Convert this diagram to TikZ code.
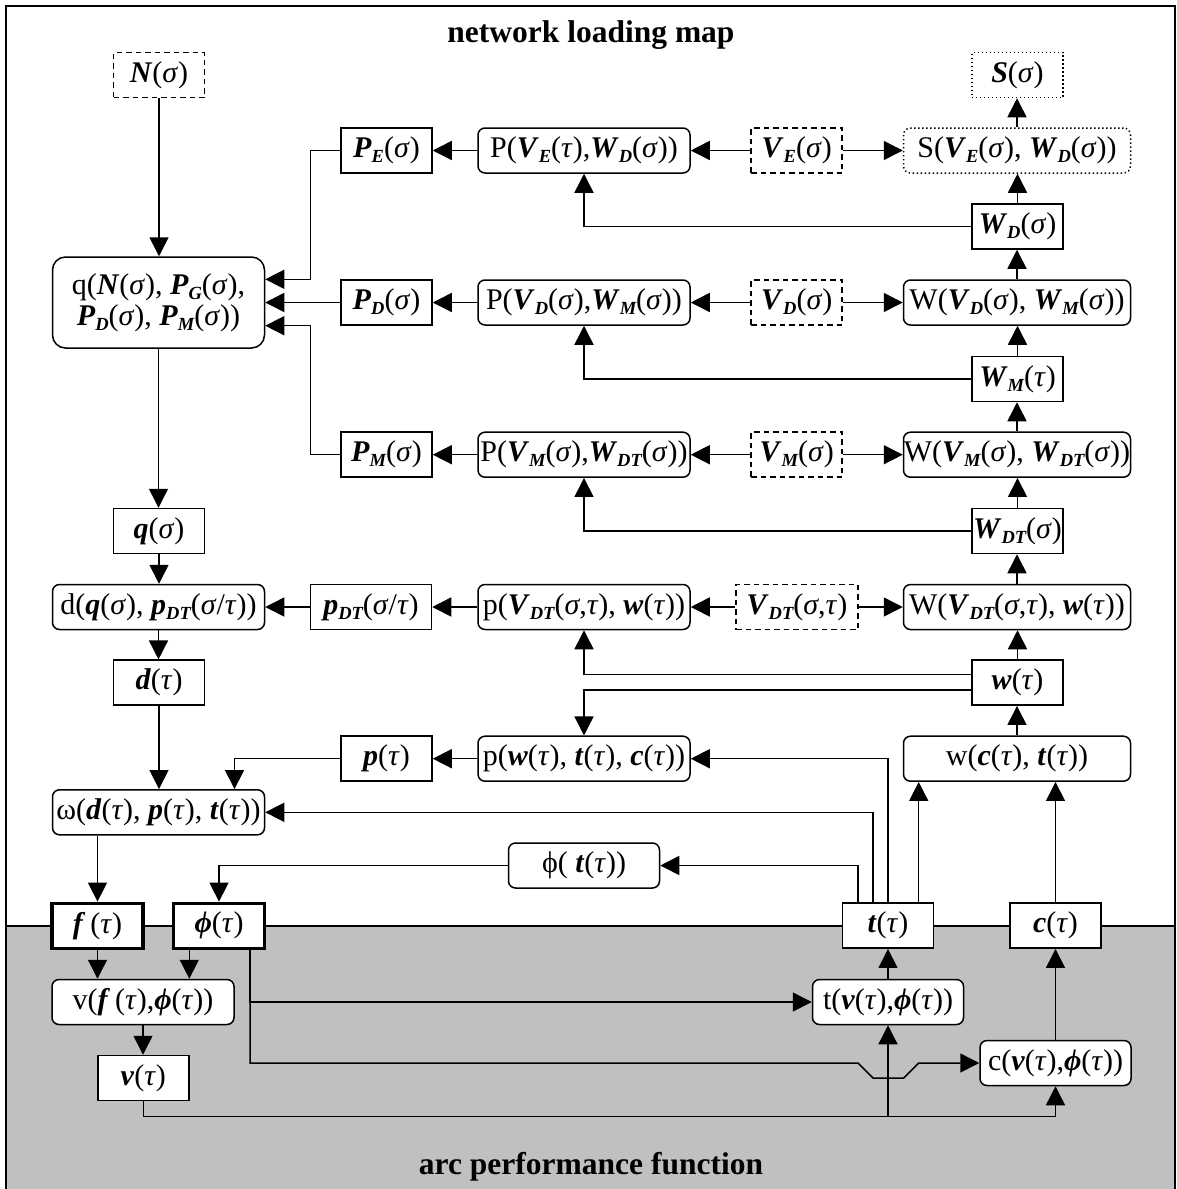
\documentclass[tikz,border=0pt]{standalone}
\usepackage{fontspec}
\setmainfont{Liberation Serif}
\usetikzlibrary{arrows.meta}
\definecolor{gbg}{RGB}{192,192,192}
\newcommand{\bi}[1]{\textbf{\textit{#1}}}
\newcommand{\sigv}{\textit{σ}}
\newcommand{\tauv}{\textit{τ}}
\newcommand{\sbx}[1]{\raisebox{-5pt}{\fontsize{18.5}{19}\selectfont\bfseries\itshape #1}}
\begin{document}
\begin{tikzpicture}[x=1pt,y=-1pt,
  box/.style={draw,fill=white,line width=1.5pt,minimum height=45pt,inner sep=0pt,
    font=\fontsize{30}{30}\selectfont},
  rbox/.style={box,rounded corners=7pt},
  dbox/.style={box,dash pattern=on 5.5pt off 4pt},
  obox/.style={box,dash pattern=on 1.4pt off 2.6pt},
  tbox/.style={box,line width=3.2pt},
  conn/.style={line width=1.5pt},
  arr/.style={conn,-{Triangle[length=19pt,width=19pt]}}]
\useasboundingbox (0,0) rectangle (1177,1189);
% background
\fill[gbg] (6,926) rectangle (1175,1190);
\draw[conn] (6,926) -- (1175,926);
\draw[line width=1.6pt] (6,1190) -- (6,6) -- (1175,6) -- (1175,1190);
\node[anchor=base,font=\fontsize{31.5}{32}\selectfont\bfseries] (title) at (591,42) {network loading map};
\node[anchor=base,font=\fontsize{31.5}{32}\selectfont\bfseries] (title2) at (591,1174) {arc performance function};
% nodes
\node[dbox,minimum width=91pt] (N) at (159,75) {\bi{N}(\sigv)};
\node[obox,minimum width=91pt] (S) at (1017.5,75) {\bi{S}(\sigv)};
\node[box,minimum width=91pt] (PE) at (386.5,150.5) {\bi{P}\sbx{E}(\sigv)};
\node[rbox,minimum width=212pt] (PVE) at (584,150.5) {P(\bi{V}\sbx{E}(\tauv),\bi{W}\sbx{D}(\sigv))};
\node[dbox,minimum width=91pt] (VE) at (796.7,150.5) {\bi{V}\sbx{E}(\sigv)};
\node[obox,rounded corners=7pt,minimum width=227pt] (SVE) at (1017,150.5) {S(\bi{V}\sbx{E}(\sigv), \bi{W}\sbx{D}(\sigv))};
\node[box,minimum width=91pt] (WD) at (1017.5,226.5) {\bi{W}\sbx{D}(\sigv)};
\node[rbox,rounded corners=13pt,minimum width=212pt,minimum height=91pt,align=center,
  font=\fontsize{30}{31}\selectfont] (q) at (158.5,302.5) {q(\bi{N}(\sigv), \bi{P}\sbx{G}(\sigv),\\ \bi{P}\sbx{D}(\sigv), \bi{P}\sbx{M}(\sigv))};
\node[box,minimum width=91pt] (PD) at (386.5,302.5) {\bi{P}\sbx{D}(\sigv)};
\node[rbox,minimum width=212pt] (PVD) at (584,302.5) {P(\bi{V}\sbx{D}(\sigv),\bi{W}\sbx{M}(\sigv))};
\node[dbox,minimum width=91pt] (VD) at (796.7,302.5) {\bi{V}\sbx{D}(\sigv)};
\node[rbox,minimum width=227pt] (WVD) at (1017,302.5) {W(\bi{V}\sbx{D}(\sigv), \bi{W}\sbx{M}(\sigv))};
\node[box,minimum width=91pt] (WM) at (1017.5,379) {\bi{W}\sbx{M}(\tauv)};
\node[box,minimum width=91pt] (PM) at (386.5,454.7) {\bi{P}\sbx{M}(\sigv)};
\node[rbox,minimum width=212pt] (PVM) at (584,454.7) {P(\bi{V}\sbx{M}(\sigv),\bi{W}\sbx{DT}(\sigv))};
\node[dbox,minimum width=91pt] (VM) at (796.7,454.7) {\bi{V}\sbx{M}(\sigv)};
\node[rbox,minimum width=227pt] (WVM) at (1017,454.7) {W(\bi{V}\sbx{M}(\sigv), \bi{W}\sbx{DT}(\sigv))};
\node[box,minimum width=91pt] (WDT) at (1017.5,531) {\bi{W}\sbx{DT}(\sigv)};
\node[box,minimum width=91pt] (qs) at (159,531) {\bi{q}(\sigv)};
\node[rbox,minimum width=212pt] (d) at (158.5,607) {d(\bi{q}(\sigv), \bi{p}\sbx{DT}(\sigv/\tauv))};
\node[box,minimum width=121pt] (pDT) at (371,607) {\bi{p}\sbx{DT}(\sigv/\tauv)};
\node[rbox,minimum width=212pt] (pVDT) at (584,607) {p(\bi{V}\sbx{DT}(\sigv,\tauv), \bi{w}(\tauv))};
\node[dbox,minimum width=122pt] (VDT) at (797,607) {\bi{V}\sbx{DT}(\sigv,\tauv)};
\node[rbox,minimum width=227pt] (WVDT) at (1017,607) {W(\bi{V}\sbx{DT}(\sigv,\tauv), \bi{w}(\tauv))};
\node[box,minimum width=91pt] (dt) at (159,682.7) {\bi{d}(\tauv)};
\node[box,minimum width=91pt] (w) at (1017.5,682.7) {\bi{w}(\tauv)};
\node[box,minimum width=91pt] (p) at (386.5,758.7) {\bi{p}(\tauv)};
\node[rbox,minimum width=212pt] (pw) at (584,758.7) {p(\bi{w}(\tauv), \bi{t}(\tauv), \bi{c}(\tauv))};
\node[rbox,minimum width=227pt] (wc) at (1017,758.7) {w(\bi{c}(\tauv), \bi{t}(\tauv))};
\node[rbox,minimum width=212pt] (om) at (158.5,812.3) {ω(\bi{d}(\tauv), \bi{p}(\tauv), \bi{t}(\tauv))};
\node[rbox,minimum width=151pt] (ph) at (584,865.5) {ϕ( \bi{t}(\tauv))};
\node[tbox,minimum width=91pt] (f) at (97.5,925.7) {\bi{f}\,(\tauv)};
\node[tbox,minimum width=91pt] (fi) at (219,925.7) {\bi{ϕ}(\tauv)};
\node[box,minimum width=91pt] (t) at (888,925.7) {\bi{t}(\tauv)};
\node[box,minimum width=91pt] (c) at (1055.5,925.7) {\bi{c}(\tauv)};
\node[rbox,minimum width=182pt] (v) at (143,1002) {v(\bi{f}\,(\tauv),\bi{ϕ}(\tauv))};
\node[rbox,minimum width=151pt] (tv) at (888,1002) {t(\bi{v}(\tauv),\bi{ϕ}(\tauv))};
\node[box,minimum width=91pt] (vt) at (143.3,1078) {\bi{v}(\tauv)};
\node[rbox,minimum width=151pt] (cv) at (1055.5,1063) {c(\bi{v}(\tauv),\bi{ϕ}(\tauv))};
\coordinate (bj) at ([yshift=-30pt]cv.south);
% connectors
\draw[arr] (N.south) -- (N.south |- q.north);
\draw[arr] (PE.west) -- ++(-30,0) |- ([yshift=23.2pt]q.east);
\draw[arr] (PD.west) -- (q.east);
\draw[arr] (PM.west) -- ++(-30,0) |- ([yshift=-23.2pt]q.east);
\draw[arr] (PVE.west) -- (PE.east);
\draw[arr] (VE.west) -- (PVE.east);
\draw[arr] (VE.east) -- (SVE.west);
\draw[arr] (SVE.north) -- (SVE.north |- S.south);
\draw[arr] (WD.north) -- (WD.north |- SVE.south);
\draw[arr] (WD.west) -| (PVE.south);
\draw[arr] (PVD.west) -- (PD.east);
\draw[arr] (VD.west) -- (PVD.east);
\draw[arr] (VD.east) -- (WVD.west);
\draw[arr] (WVD.north) -- (WVD.north |- WD.south);
\draw[arr] (WM.north) -- (WM.north |- WVD.south);
\draw[arr] (WM.west) -| (PVD.south);
\draw[arr] (PVM.west) -- (PM.east);
\draw[arr] (VM.west) -- (PVM.east);
\draw[arr] (VM.east) -- (WVM.west);
\draw[arr] (WVM.north) -- (WVM.north |- WM.south);
\draw[arr] (WDT.north) -- (WDT.north |- WVM.south);
\draw[arr] (WDT.west) -| (PVM.south);
\draw[arr] (WVDT.north) -- (WVDT.north |- WDT.south);
\draw[arr] (w.north) -- (w.north |- WVDT.south);
\draw[arr] ([yshift=8.4pt]w.west) -| (pVDT.south);
\draw[arr] ([yshift=-7.3pt]w.west) -| (pw.north);
\draw[arr] (pVDT.west) -- (pDT.east);
\draw[arr] (VDT.west) -- (pVDT.east);
\draw[arr] (VDT.east) -- (WVDT.west);
\draw[arr] (pDT.west) -- (d.east);
\draw[arr] (q.south) -- (q.south |- qs.north);
\draw[arr] (qs.south) -- (qs.south |- d.north);
\draw[arr] (d.south) -- (d.south |- dt.north);
\draw[arr] (dt.south) -- (dt.south |- om.north);
\draw[arr] (pw.west) -- (p.east);
\draw[arr] (p.west) -| ([xshift=76pt]om.north);
\draw[arr] (wc.north) -- (wc.north |- w.south);
\draw[arr] ([xshift=30.7pt]t.north) -- ([xshift=30.7pt]t.north |- wc.south);
\draw[arr] (c.north) -- (c.north |- wc.south);
\draw[arr] (t.north) |- (pw.east);
\draw[arr] ([xshift=-15pt]t.north) |- (om.east);
\draw[arr] ([xshift=-30pt]t.north) |- (ph.east);
\draw[arr] (ph.west) -| (fi.north);
\draw[arr] (f.north |- om.south) -- (f.north);
\draw[arr] (f.south) -- (f.south |- v.north);
\draw[arr] ([xshift=-29.7pt]fi.south) -- ([xshift=-29.7pt]fi.south |- v.north);
\draw[arr] (v.south) -- (v.south |- vt.north);
\draw[arr] (tv.north) -- (t.south);
\draw[arr] (cv.north) -- (c.south);
\draw[arr] ([xshift=31pt]fi.south) |- (tv.west);
\draw[arr] ([xshift=31pt]fi.south) |- ([xshift=-30pt]tv.south |- cv.west) -- ++(15,15) -- ++(30.7,0) -- ++(15,-15) -- (cv.west);
\draw[arr] (vt.south) |- (bj) -- (cv.south);
\draw[arr] (tv.south |- bj) -- (tv.south);
\end{tikzpicture}
\end{document}
